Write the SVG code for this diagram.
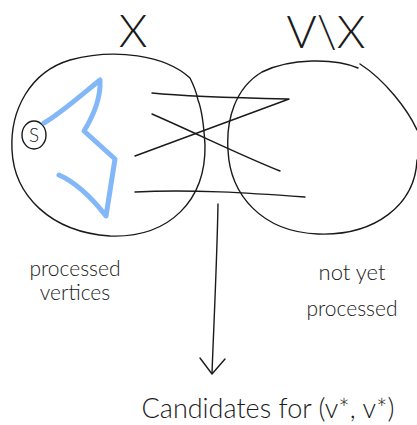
<svg xmlns="http://www.w3.org/2000/svg" width="417" height="425" viewBox="0 0 417 425">
<style>
.pen{fill:none;stroke:#1a1a1a;stroke-width:1.4;stroke-linecap:round;stroke-linejoin:round}
.blue{fill:none;stroke:#5aa0f5;stroke-opacity:0.75;stroke-width:5;stroke-linecap:round;stroke-linejoin:round}
.hand{font-family:"Lato","Liberation Sans",Arial,sans-serif;fill:#1a1a1a;font-weight:300}
</style>
<rect width="417" height="425" fill="#fff"/>
<g id="setX">
<path class="pen" d="M190,78 C165,55 115,48 70,60 C30,72 10,110 12,150 C14,195 50,232 110,236 C170,238 206,200 205,145 C204,128 202,110 198,100 C196,90 192,82 190,78 Z"/>
<text class="hand" x="133" y="47" font-size="46" text-anchor="middle">X</text>
</g>
<g id="setVX">
<path class="pen" d="M358,68 C335,58 290,58 262,72 C235,88 226,120 228,150 C230,195 262,232 318,234 C375,236 415,205 417,160"/>
<path class="pen" d="M360,64 C385,80 408,110 417,130"/>
<text class="hand" x="326" y="48" font-size="46" text-anchor="middle">V\X</text>
</g>
<g id="s">
<ellipse class="pen" cx="34" cy="135" rx="12" ry="14"/>
<text class="hand" x="34" y="142" font-size="19" text-anchor="middle">S</text>
</g>
<g id="path">
<path class="blue" d="M44,123 C60,114 85,92 100,80 C101,98 92,118 84,131 L115,159 L106,216 C92,198 75,182 59,175"/>
</g>
<g id="connectors">
<path class="pen" d="M152,93 C190,97 240,98 289,99 L135,156"/>
<path class="pen" d="M152,114 C200,135 240,155 280,171"/>
<path class="pen" d="M135,192 C190,189 250,193 305,197"/>
<path class="pen" d="M218,204 C217,260 214,320 212,373"/>
<path class="pen" d="M200,358 L212,374 L225,359"/>
</g>
<g id="labels">
<text class="hand" x="75" y="276" font-size="21" text-anchor="middle">processed</text>
<text class="hand" x="75" y="300" font-size="21" text-anchor="middle">vertices</text>
<text class="hand" x="352" y="280" font-size="22" text-anchor="middle">not yet</text>
<text class="hand" x="352" y="316" font-size="21" text-anchor="middle">processed</text>
<text class="hand" x="268" y="418" font-size="27" text-anchor="middle">Candidates for (v*, v*)</text>
</g>
</svg>
